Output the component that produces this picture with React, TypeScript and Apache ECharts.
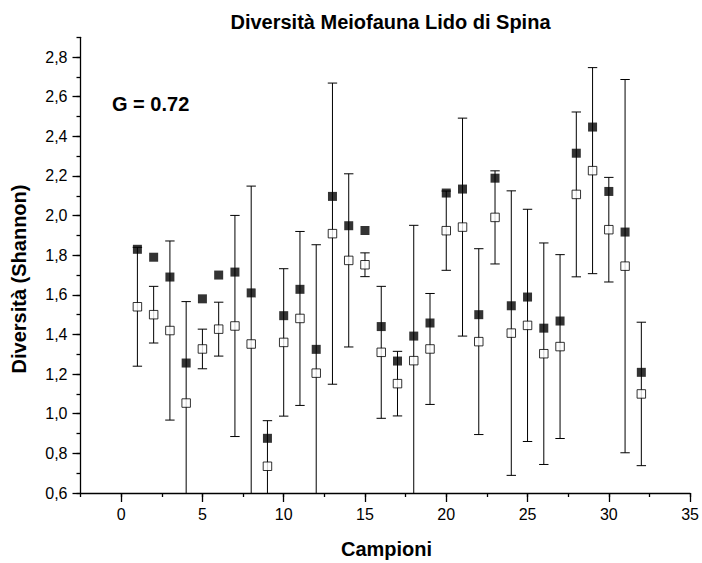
import React, { useEffect, useRef } from "react";
import * as echarts from "echarts";

const samples = [1, 2, 3, 4, 5, 6, 7, 8, 9, 10, 11, 12, 13, 14, 15, 16, 17, 18, 19, 20, 21, 22, 23, 24, 25, 26, 27, 28, 29, 30, 31, 32];
const filledValues = [1.83, 1.79, 1.69, 1.256, 1.58, 1.70, 1.715, 1.61, 0.876, 1.495, 1.628, 1.325, 2.097, 1.949, 1.925, 1.44, 1.266, 1.392, 1.458, 2.114, 2.134, 1.50, 2.189, 1.545, 1.589, 1.432, 1.468, 2.315, 2.447, 2.122, 1.917, 1.209];
const openValues = [1.54, 1.50, 1.42, 1.054, 1.327, 1.427, 1.443, 1.352, 0.735, 1.36, 1.481, 1.205, 1.909, 1.774, 1.752, 1.31, 1.152, 1.268, 1.327, 1.924, 1.942, 1.364, 1.991, 1.407, 1.446, 1.303, 1.339, 2.107, 2.227, 1.929, 1.745, 1.10];
const openErrors = [0.30, 0.143, 0.452, 0.512, 0.10, 0.136, 0.558, 0.797, 0.23, 0.372, 0.439, 0.648, 0.76, 0.437, 0.06, 0.333, 0.163, 0.683, 0.28, 0.20, 0.55, 0.469, 0.235, 0.718, 0.586, 0.559, 0.464, 0.416, 0.52, 0.264, 0.942, 0.362];

const xMajorTicks = [0, 5, 10, 15, 20, 25, 30, 35];
const yMajorTicks = [0.6, 0.8, 1.0, 1.2, 1.4, 1.6, 1.8, 2.0, 2.2, 2.4, 2.6, 2.8];

const X_MIN = -2.5;
const X_MAX = 35;
const Y_MIN = 0.6;
const Y_MAX = 2.9;

const FONT = "'Liberation Sans', Arial, Helvetica, sans-serif";

export default function App() {
  const ref = useRef<HTMLDivElement>(null);

  useEffect(() => {
    document.body.style.margin = "0";
    const chart = echarts.init(ref.current!, null, { renderer: "svg" });

    const errData = samples.map((s, i) => [s, openValues[i] - openErrors[i], openValues[i] + openErrors[i]]);

    const option: any = {
      animation: false,
      backgroundColor: "#ffffff",
      grid: { left: 80.5, right: 9, top: 37.3, bottom: 70, containLabel: false },
      xAxis: [
        {
          type: "value",
          min: X_MIN,
          max: X_MAX,
          interval: 2.5,
          position: "bottom",
          axisLine: { show: true, onZero: false, lineStyle: { color: "#000", width: 1.3 } },
          axisTick: { show: true, length: 4, lineStyle: { color: "#000", width: 1.3 } },
          axisLabel: { show: false },
          splitLine: { show: false },
        },
        {
          type: "value",
          min: X_MIN,
          max: X_MAX,
          position: "bottom",
          axisLine: { show: false, onZero: false },
          axisTick: { show: true, length: 9, customValues: xMajorTicks, lineStyle: { color: "#000", width: 1.3 } },
          axisLabel: {
            show: true,
            customValues: xMajorTicks,
            margin: 13,
            fontSize: 16,
            color: "#000",
            fontFamily: FONT,
          },
          splitLine: { show: false },
        },
      ],
      yAxis: [
        {
          type: "value",
          min: Y_MIN,
          max: Y_MAX,
          interval: 0.1,
          position: "left",
          axisLine: { show: true, onZero: false, lineStyle: { color: "#000", width: 1.3 } },
          axisTick: { show: true, length: 4, lineStyle: { color: "#000", width: 1.3 } },
          axisLabel: { show: false },
          splitLine: { show: false },
        },
        {
          type: "value",
          min: Y_MIN,
          max: Y_MAX,
          position: "left",
          axisLine: { show: false, onZero: false },
          axisTick: { show: true, length: 8, customValues: yMajorTicks, lineStyle: { color: "#000", width: 1.3 } },
          axisLabel: {
            show: true,
            customValues: yMajorTicks,
            margin: 13,
            fontSize: 16,
            color: "#000",
            fontFamily: FONT,
            formatter: (v: number) => v.toFixed(1).replace(".", ","),
          },
          splitLine: { show: false },
        },
      ],
      graphic: [
        {
          type: "text",
          x: 390.5,
          y: 22,
          style: {
            text: "Diversità Meiofauna Lido di Spina",
            font: `bold 20px ${FONT}`,
            fill: "#000",
            textAlign: "center",
            textVerticalAlign: "middle",
          },
        },
        {
          type: "text",
          x: 112,
          y: 104,
          style: {
            text: "G = 0.72",
            font: `bold 20px ${FONT}`,
            fill: "#000",
            textAlign: "left",
            textVerticalAlign: "middle",
          },
        },
        {
          type: "text",
          x: 19,
          y: 279,
          rotation: Math.PI / 2,
          style: {
            text: "Diversità (Shannon)",
            font: `bold 20px ${FONT}`,
            fill: "#000",
            textAlign: "center",
            textVerticalAlign: "middle",
          },
        },
        {
          type: "text",
          x: 386.5,
          y: 549,
          style: {
            text: "Campioni",
            font: `bold 20px ${FONT}`,
            fill: "#000",
            textAlign: "center",
            textVerticalAlign: "middle",
          },
        },
      ],
      series: [
        {
          type: "custom",
          xAxisIndex: 0,
          yAxisIndex: 0,
          data: errData,
          z: 1,
          renderItem: (params: any, api: any) => {
            const x = api.value(0);
            const lo = api.value(1);
            const hi = api.value(2);
            const loC = Math.max(lo, Y_MIN);
            const hiC = Math.min(hi, Y_MAX);
            const pLo = api.coord([x, loC]);
            const pHi = api.coord([x, hiC]);
            const half = 4.7;
            const style = { stroke: "#000", lineWidth: 1 };
            const children: any[] = [
              { type: "line", shape: { x1: pLo[0], y1: pLo[1], x2: pHi[0], y2: pHi[1] }, style },
            ];
            if (lo >= Y_MIN) {
              children.push({ type: "line", shape: { x1: pLo[0] - half, y1: pLo[1], x2: pLo[0] + half, y2: pLo[1] }, style });
            }
            if (hi <= Y_MAX) {
              children.push({ type: "line", shape: { x1: pHi[0] - half, y1: pHi[1], x2: pHi[0] + half, y2: pHi[1] }, style });
            }
            return { type: "group", children };
          },
        },
        {
          type: "scatter",
          name: "open",
          xAxisIndex: 0,
          yAxisIndex: 0,
          z: 2,
          symbol: "rect",
          symbolSize: 8.5,
          itemStyle: { color: "#fff", borderColor: "#000", borderWidth: 1 },
          data: samples.map((s, i) => [s, openValues[i]]),
        },
        {
          type: "scatter",
          name: "filled",
          xAxisIndex: 0,
          yAxisIndex: 0,
          z: 3,
          symbol: "rect",
          symbolSize: 9,
          itemStyle: { color: "#000" },
          data: samples.map((s, i) => [s, filledValues[i]]),
        },
      ],
    };

    chart.setOption(option);
    return () => chart.dispose();
  }, []);

  return <div ref={ref} style={{ width: 702, height: 563 }} />;
}
